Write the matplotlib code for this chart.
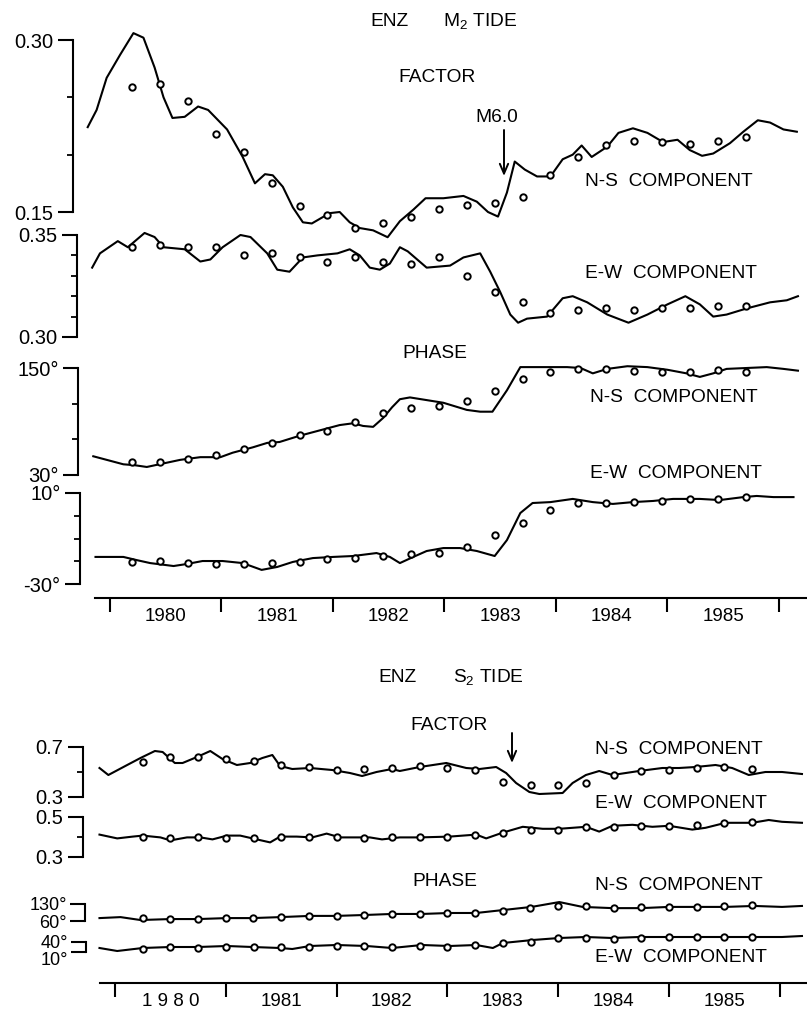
import matplotlib
matplotlib.use("Agg")
import matplotlib.pyplot as plt
from matplotlib import font_manager

W, H = 807, 1011

# ---------------- M2 tide ----------------
m2_pts_t = [1980.20, 1980.45, 1980.70, 1980.95, 1981.20, 1981.45, 1981.70, 1981.95,
            1982.20, 1982.45, 1982.70, 1982.95, 1983.20, 1983.45, 1983.70, 1983.95,
            1984.20, 1984.45, 1984.70, 1984.95, 1985.20, 1985.45, 1985.70]

m2_fac_ns_t = [1979.80, 1979.88, 1979.97, 1980.09, 1980.21, 1980.30, 1980.40, 1980.48, 1980.56,
               1980.67, 1980.79, 1980.88, 1981.05, 1981.19, 1981.30, 1981.39, 1981.46, 1981.55,
               1981.64, 1981.73, 1981.81, 1981.97, 1982.06, 1982.15, 1982.24, 1982.36, 1982.49,
               1982.60, 1982.72, 1982.83, 1982.99, 1983.17, 1983.29, 1983.39, 1983.48, 1983.56,
               1983.63, 1983.72, 1983.83, 1983.95, 1984.06, 1984.15, 1984.23, 1984.32, 1984.46,
               1984.56, 1984.69, 1984.82, 1984.96, 1985.09, 1985.20, 1985.31, 1985.41, 1985.56,
               1985.68, 1985.81, 1985.92, 1986.04, 1986.16]
m2_fac_ns = [0.224, 0.239, 0.267, 0.287, 0.306, 0.302, 0.276, 0.250, 0.232,
             0.233, 0.242, 0.239, 0.222, 0.198, 0.175, 0.183, 0.182, 0.172,
             0.154, 0.141, 0.140, 0.149, 0.150, 0.141, 0.136, 0.134, 0.128,
             0.142, 0.152, 0.162, 0.162, 0.164, 0.159, 0.150, 0.146, 0.167,
             0.194, 0.187, 0.181, 0.181, 0.196, 0.200, 0.208, 0.198, 0.207,
             0.219, 0.223, 0.219, 0.211, 0.213, 0.204, 0.199, 0.201, 0.210,
             0.220, 0.230, 0.228, 0.222, 0.220]
m2_fac_ns_pts = [0.259, 0.262, 0.247, 0.218, 0.202, 0.175, 0.155, 0.147, 0.136, 0.140, 0.146, 0.153,
                 0.156, 0.158, 0.163, 0.182, 0.198, 0.208, 0.212, 0.211, 0.209, 0.212, 0.215]

m2_fac_ew_t = [1979.84, 1979.91, 1980.07, 1980.16, 1980.31, 1980.40, 1980.48, 1980.67, 1980.81,
               1980.90, 1981.01, 1981.17, 1981.26, 1981.41, 1981.50, 1981.61, 1981.73, 1981.86,
               1982.04, 1982.15, 1982.24, 1982.33, 1982.42, 1982.51, 1982.60, 1982.67, 1982.84,
               1983.05, 1983.17, 1983.32, 1983.41, 1983.50, 1983.59, 1983.66, 1983.74, 1983.92,
               1984.06, 1984.15, 1984.28, 1984.46, 1984.65, 1984.82, 1985.00, 1985.16, 1985.29,
               1985.41, 1985.53, 1985.71, 1985.92, 1986.07, 1986.17]
m2_fac_ew = [0.334, 0.341, 0.347, 0.344, 0.351, 0.349, 0.344, 0.343, 0.337,
             0.338, 0.344, 0.350, 0.349, 0.341, 0.333, 0.332, 0.339, 0.340,
             0.341, 0.343, 0.340, 0.334, 0.333, 0.336, 0.344, 0.342, 0.334,
             0.335, 0.339, 0.341, 0.332, 0.322, 0.311, 0.307, 0.309, 0.310,
             0.319, 0.320, 0.317, 0.311, 0.307, 0.311, 0.316, 0.320, 0.316,
             0.310, 0.311, 0.314, 0.317, 0.318, 0.320]
m2_fac_ew_pts = [0.344, 0.345, 0.344, 0.344, 0.340, 0.341, 0.339, 0.337, 0.339, 0.337, 0.336, 0.339,
                 0.330, 0.322, 0.317, 0.312, 0.313, 0.314, 0.313, 0.314, 0.314, 0.315, 0.315]

m2_ph_ns_t = [1979.85, 1979.97, 1980.12, 1980.22, 1980.33, 1980.48, 1980.63, 1980.81, 1980.99,
              1981.10, 1981.28, 1981.41, 1981.52, 1981.70, 1981.88, 1982.06, 1982.18, 1982.27,
              1982.36, 1982.45, 1982.53, 1982.60, 1982.69, 1982.84, 1982.99, 1983.20, 1983.32,
              1983.43, 1983.56, 1983.68, 1983.92, 1984.10, 1984.22, 1984.33, 1984.46, 1984.64,
              1984.82, 1985.00, 1985.17, 1985.29, 1985.41, 1985.53, 1985.71, 1985.89, 1986.04,
              1986.17]
m2_ph_ns = [51, 47, 42, 41, 39, 43, 47, 50, 50, 55, 61, 66, 67, 74, 80, 86, 88, 85, 84, 94,
            106, 115, 117, 114, 111, 103, 101, 101, 125, 151, 151, 151, 150, 144, 149, 152,
            151, 148, 144, 140, 144, 149, 150, 151, 149, 147]
m2_ph_ns_pts = [44.6, 44.6, 47.9, 52.4, 59.2, 65.9, 74.9, 79.3, 89.4, 99.5, 105.1, 107.4,
                113.0, 124.2, 137.7, 145.5, 148.9, 148.9, 146.6, 145.5, 145.5, 147.8, 145.5]

m2_ph_ew_t = [1979.87, 1980.12, 1980.24, 1980.36, 1980.57, 1980.69, 1980.83, 1981.01, 1981.19,
              1981.36, 1981.50, 1981.64, 1981.82, 1982.00, 1982.18, 1982.39, 1982.51, 1982.60,
              1982.72, 1982.84, 1982.99, 1983.14, 1983.29, 1983.45, 1983.56, 1983.68, 1983.79,
              1983.95, 1984.15, 1984.33, 1984.51, 1984.69, 1984.87, 1985.05, 1985.29, 1985.47,
              1985.68, 1985.80, 1985.95, 1986.13]
m2_ph_ew = [-18.1, -18.1, -19.5, -20.8, -22.1, -21.2, -19.9, -19.9, -20.8, -23.8,
            -22.5, -20.3, -18.6, -18.1, -17.7, -16.4, -18.1, -20.8, -18.1, -15.5,
            -14.2, -14.2, -15.5, -17.7, -10.7, 1.2, 5.6, 6.0, 7.4, 6.0,
            5.2, 6.0, 6.5, 7.4, 7.4, 6.9, 8.2, 8.7, 8.2, 8.2]
m2_ph_ew_pts = [-20.3, -19.9, -20.8, -21.2, -21.2, -20.8, -20.3, -19.0, -18.6, -17.7, -16.8, -16.4,
                -13.7, -8.5, -3.2, 2.5, 5.6, 5.6, 6.0, 6.5, 7.4, 7.4, 8.2]

# ---------------- S2 tide ----------------
s2_pts_t = [1980.25, 1980.50, 1980.75, 1981.00, 1981.25, 1981.50, 1981.75, 1982.00,
            1982.25, 1982.50, 1982.75, 1983.00, 1983.25, 1983.50, 1983.75, 1984.00,
            1984.25, 1984.50, 1984.75, 1985.00, 1985.25, 1985.50, 1985.75]

s2_fac_ns_t = [1979.86, 1979.94, 1980.11, 1980.23, 1980.36, 1980.43, 1980.54, 1980.61, 1980.74,
               1980.86, 1980.97, 1981.10, 1981.22, 1981.33, 1981.42, 1981.49, 1981.60, 1981.76,
               1981.96, 1982.12, 1982.23, 1982.36, 1982.50, 1982.57, 1982.75, 1982.99, 1983.17,
               1983.29, 1983.44, 1983.53, 1983.62, 1983.74, 1983.83, 1984.04, 1984.13, 1984.25,
               1984.37, 1984.49, 1984.61, 1984.73, 1984.94, 1985.09, 1985.24, 1985.42, 1985.57,
               1985.72, 1985.87, 1986.02, 1986.20]
s2_fac_ns = [0.532, 0.476, 0.556, 0.612, 0.668, 0.660, 0.572, 0.572, 0.620,
             0.668, 0.604, 0.556, 0.572, 0.612, 0.636, 0.548, 0.524, 0.532,
             0.516, 0.492, 0.468, 0.500, 0.524, 0.508, 0.540, 0.572, 0.532,
             0.524, 0.540, 0.492, 0.412, 0.340, 0.324, 0.332, 0.412, 0.476,
             0.508, 0.476, 0.492, 0.508, 0.532, 0.532, 0.540, 0.556, 0.532,
             0.476, 0.500, 0.500, 0.484]
s2_fac_ns_pts = [0.580, 0.620, 0.620, 0.604, 0.588, 0.556, 0.540, 0.516, 0.524, 0.532, 0.548, 0.532,
                 0.516, 0.420, 0.396, 0.396, 0.412, 0.476, 0.508, 0.516, 0.532, 0.540, 0.524]

s2_fac_ew_t = [1979.86, 1980.02, 1980.16, 1980.25, 1980.41, 1980.50, 1980.65, 1980.77, 1980.88,
               1981.01, 1981.13, 1981.28, 1981.40, 1981.49, 1981.64, 1981.78, 1981.91, 1982.03,
               1982.14, 1982.30, 1982.41, 1982.57, 1982.75, 1983.02, 1983.26, 1983.35, 1983.50,
               1983.68, 1983.86, 1984.01, 1984.25, 1984.37, 1984.49, 1984.67, 1984.85, 1985.00,
               1985.21, 1985.33, 1985.51, 1985.75, 1985.90, 1986.02, 1986.20]
s2_fac_ew = [0.412, 0.393, 0.402, 0.407, 0.398, 0.383, 0.398, 0.398, 0.388,
             0.407, 0.407, 0.388, 0.373, 0.402, 0.402, 0.398, 0.417, 0.398,
             0.398, 0.398, 0.388, 0.398, 0.398, 0.402, 0.412, 0.393, 0.422,
             0.451, 0.441, 0.441, 0.451, 0.427, 0.456, 0.461, 0.451, 0.456,
             0.437, 0.446, 0.471, 0.471, 0.485, 0.476, 0.471]
s2_fac_ew_pts = [0.402, 0.393, 0.398, 0.393, 0.393, 0.402, 0.398, 0.398, 0.393, 0.398, 0.398, 0.398,
                 0.412, 0.422, 0.437, 0.437, 0.451, 0.451, 0.456, 0.456, 0.461, 0.471, 0.476]

s2_ph_ns_t = [1979.86, 1980.05, 1980.23, 1980.50, 1980.75, 1981.01, 1981.24, 1981.49, 1981.76,
              1982.00, 1982.27, 1982.50, 1982.77, 1983.02, 1983.26, 1983.50, 1983.76, 1984.01,
              1984.22, 1984.49, 1984.75, 1985.00, 1985.24, 1985.51, 1985.77, 1986.02, 1986.20]
s2_ph_ns = [72, 76, 64, 68, 68, 72, 72, 76, 81, 81, 85, 89, 89, 93, 93, 105, 118, 138,
            118, 113, 113, 118, 118, 118, 122, 118, 122]
s2_ph_ns_pts = [72, 68, 68, 72, 72, 76, 81, 81, 85, 89, 89, 93, 93, 101, 113, 122, 122, 113,
                118, 118, 118, 122, 126]

s2_ph_ew_t = [1979.86, 1980.02, 1980.25, 1980.50, 1980.75, 1981.01, 1981.24, 1981.49, 1981.60,
              1981.76, 1982.00, 1982.27, 1982.50, 1982.77, 1983.02, 1983.26, 1983.41, 1983.50,
              1983.77, 1984.01, 1984.25, 1984.49, 1984.73, 1985.00, 1985.27, 1985.51, 1985.77,
              1986.02, 1986.20]
s2_ph_ew = [22, 13, 22, 25, 25, 28, 25, 22, 19, 28, 31, 28, 22, 31, 28, 31, 22, 37, 46, 52,
            55, 52, 55, 55, 55, 55, 55, 55, 58]
s2_ph_ew_pts = [19, 25, 22, 25, 25, 25, 25, 28, 28, 25, 28, 25, 31, 37, 40, 52, 52, 49, 52, 55,
                55, 55, 55]

years = [1980, 1981, 1982, 1983, 1984, 1985, 1986]
year_mid = [1980.5, 1981.5, 1982.5, 1983.5, 1984.5, 1985.5]
year_labels_m2 = ["1980", "1981", "1982", "1983", "1984", "1985"]
year_labels_s2 = ["1 9 8 0", "1981", "1982", "1983", "1984", "1985"]


# ---------------- fonts ----------------
names = {f.name for f in font_manager.fontManager.ttflist}
NUM_FONT = "Liberation Sans" if "Liberation Sans" in names else "DejaVu Sans"
if "Liberation Sans Narrow" in names:
    WORD_FONT, WORD_FS = "Liberation Sans Narrow", 15.5
else:
    WORD_FONT, WORD_FS = NUM_FONT, 13.8
plt.rcParams["font.family"] = [NUM_FONT, "DejaVu Sans"]
plt.rcParams["mathtext.default"] = "regular"

LW = 1.5


def fxy(x, y):
    """ pixel (from top-left) -> figure fraction """
    return x / W, 1 - y / H


def label(fig, x, y, s, **kw):
    fx, fy = fxy(x, y)
    fig.text(fx, fy, s, ha="left", va="center", family=WORD_FONT, fontsize=WORD_FS, **kw)


def panel(fig, x_spine, y_top, y_bot, lo, hi, x0, ppy):
    """ one strip with its own left axis; x0 = pixel of 1980.0, ppy = pixels per year """
    ax = fig.add_axes([x_spine / W, 1 - y_bot / H, (W - x_spine) / W, (y_bot - y_top) / H])
    ax.set_xlim(1980 + (x_spine - x0) / ppy, 1980 + (W - x0) / ppy)
    ax.set_ylim(lo, hi)
    ax.patch.set_visible(False)
    for s in ["top", "right", "bottom"]:
        ax.spines[s].set_visible(False)
    ax.spines["left"].set_linewidth(LW)
    ax.set_xticks([])
    return ax


def left_ticks(ax, major, labels, minor, fs=13, pad=3):
    ax.set_yticks(major, labels)
    ax.set_yticks(minor, minor=True)
    ax.tick_params(axis="y", which="major", length=11, width=LW, pad=pad, labelsize=fs)
    ax.tick_params(axis="y", which="minor", length=4, width=1.3)


def series(ax, t, v, tp, vp):
    ax.plot(t, v, color="black", lw=LW, clip_on=False, solid_joinstyle="round")
    ax.plot(tp, vp, "o", ms=4.6, mfc="white", mec="black", mew=1.4, clip_on=False, zorder=3)


def time_axis(fig, y_line, x_start, x0, ppy, labels, pad):
    ax = fig.add_axes([0, 1 - y_line / H, 1, 8 / H])
    ax.set_xlim(1980 - x0 / ppy, 1980 + (W - x0) / ppy)
    ax.patch.set_visible(False)
    for s in ["top", "right", "left"]:
        ax.spines[s].set_visible(False)
    ax.spines["bottom"].set_linewidth(LW)
    ax.spines["bottom"].set_bounds(1980 + (x_start - x0) / ppy, 1980 + (W - x0) / ppy)
    ax.set_yticks([])
    ax.set_xticks(years, [""] * len(years))
    ax.set_xticks(year_mid, labels, minor=True)
    ax.tick_params(axis="x", which="major", direction="out", length=10, width=LW)
    ax.tick_params(axis="x", which="minor", length=0, pad=pad, labelsize=13.5)


def arrow(fig, x, y0, y1):
    fig.add_artist(matplotlib.patches.FancyArrowPatch(
        fxy(x, y0), fxy(x, y1), transform=fig.transFigure,
        arrowstyle="->,head_length=0.7,head_width=0.3", mutation_scale=10,
        lw=1.4, color="black", shrinkA=0, shrinkB=0))


def main():
    fig = plt.figure(figsize=(W / 100, H / 100), dpi=100)
    fig.patch.set_facecolor("white")

    # ----- M2 -----
    X0, PPY = 110, 111.5
    ax = panel(fig, 73, 40, 212, 0.15, 0.30, X0, PPY)
    left_ticks(ax, [0.15, 0.30], ["0.15", "0.30"], [0.20, 0.25], fs=14.5)
    series(ax, m2_fac_ns_t, m2_fac_ns, m2_pts_t, m2_fac_ns_pts)

    ax = panel(fig, 77, 235, 337, 0.30, 0.35, X0, PPY)
    left_ticks(ax, [0.30, 0.35], ["0.30", "0.35"], [0.31, 0.32, 0.33, 0.34], fs=14.5)
    series(ax, m2_fac_ew_t, m2_fac_ew, m2_pts_t, m2_fac_ew_pts)

    ax = panel(fig, 78, 368, 475, 30, 150, X0, PPY)
    left_ticks(ax, [30, 150], ["30°", "150°"], [70, 110], fs=14.5)
    series(ax, m2_ph_ns_t, m2_ph_ns, m2_pts_t, m2_ph_ns_pts)

    ax = panel(fig, 80, 493, 584, -30, 10, X0, PPY)
    left_ticks(ax, [-30, 10], ["-30°", "10°"], [-20, -10, 0], fs=14.5)
    series(ax, m2_ph_ew_t, m2_ph_ew, m2_pts_t, m2_ph_ew_pts)

    time_axis(fig, 598, 95, X0, PPY, year_labels_m2, pad=7)

    label(fig, 370, 21, "ENZ")
    label(fig, 443, 21, "M$_2$ TIDE")
    label(fig, 398, 77, "FACTOR")
    label(fig, 475, 118, "M6.0")
    arrow(fig, 504, 130, 176)
    label(fig, 585, 182, "N-S  COMPONENT")
    label(fig, 585, 273, "E-W  COMPONENT")
    label(fig, 402, 353, "PHASE")
    label(fig, 590, 397, "N-S  COMPONENT")
    label(fig, 590, 473, "E-W  COMPONENT")

    # ----- S2 -----
    X0, PPY = 115, 110.8
    ax = panel(fig, 83, 747, 797, 0.3, 0.7, X0, PPY)
    left_ticks(ax, [0.3, 0.7], ["0.3", "0.7"], [0.5], fs=14.5)
    series(ax, s2_fac_ns_t, s2_fac_ns, s2_pts_t, s2_fac_ns_pts)

    ax = panel(fig, 83, 817, 857, 0.3, 0.5, X0, PPY)
    left_ticks(ax, [0.3, 0.5], ["0.3", "0.5"], [0.4], fs=14.5)
    series(ax, s2_fac_ew_t, s2_fac_ew, s2_pts_t, s2_fac_ew_pts)

    ax = panel(fig, 85, 904, 921, 60, 130, X0, PPY)
    left_ticks(ax, [60, 130], ["60°", "130°"], [], fs=13, pad=2)
    series(ax, s2_ph_ns_t, s2_ph_ns, s2_pts_t, s2_ph_ns_pts)

    ax = panel(fig, 86, 942, 952, 10, 40, X0, PPY)
    left_ticks(ax, [10, 40], ["10°", "40°"], [], fs=13, pad=2)
    ax.get_yticklabels()[0].set_va("top")
    series(ax, s2_ph_ew_t, s2_ph_ew, s2_pts_t, s2_ph_ew_pts)

    time_axis(fig, 983, 100, X0, PPY, year_labels_s2, pad=7)

    label(fig, 378, 677, "ENZ")
    label(fig, 453, 677, "S$_2$ TIDE")
    label(fig, 410, 725, "FACTOR")
    arrow(fig, 512, 733, 763)
    label(fig, 595, 750, "N-S  COMPONENT")
    label(fig, 595, 803, "E-W  COMPONENT")
    label(fig, 412, 882, "PHASE")
    label(fig, 595, 885, "N-S  COMPONENT")
    label(fig, 595, 957, "E-W  COMPONENT")

    fig.savefig("out.png", dpi=100, facecolor="white")
    plt.close(fig)


if __name__ == "__main__":
    main()
